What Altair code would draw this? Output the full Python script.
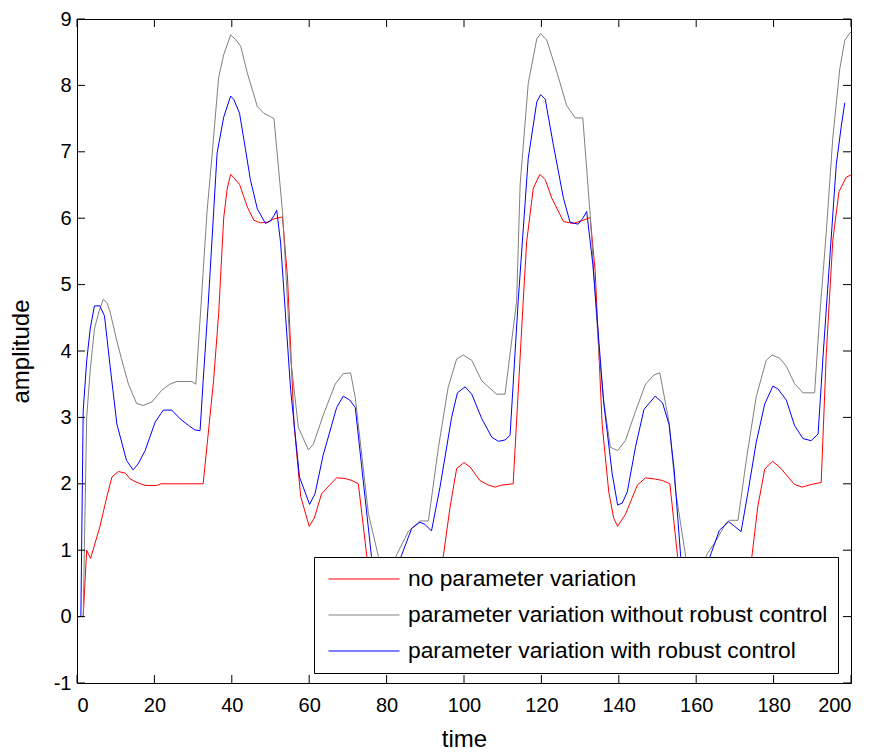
import altair as alt
import pandas as pd

# ---------------- data ----------------
series_names = [
    "no parameter variation",
    "parameter variation without robust control",
    "parameter variation with robust control",
]
series_colors = ["#ff0000", "#808080", "#0000ff"]

red_t = [0, 1.6, 2.5, 3.5, 5.9, 7.7, 9.0, 10.7, 12.5, 13.7, 15.5, 17.6, 20.6, 21.7, 32.6,
         35.3, 36.6, 37.9, 38.8, 39.7, 40.5, 42, 44, 45.7, 47.4, 49.2, 50.9, 53.1, 54.4,
         56.1, 57.8, 60, 61.3, 63.2, 65.6, 67.1, 69.3, 71, 72.7, 74.9, 77, 80, 85, 90,
         93.5, 94.7, 96.4, 98.1, 100, 101.6, 104.1, 106.3, 108, 109.7, 112.7, 115.3,
         116.2, 117.9, 119.6, 121, 122.7, 125.7, 128.2, 130.4, 132.6, 133.9, 135.7,
         137.4, 138.7, 139.7, 141.7, 144.8, 146.9, 149.5, 151.3, 153.2, 155.2, 157, 160,
         165, 170, 173.5, 174.5, 175.9, 177.7, 179.7, 181.6, 183.5, 185.4, 187.4, 189.7,
         192.3, 193.6, 195.3, 196.9, 198.8, 200]
red_v = [0, 0, 1.0, 0.875, 1.35, 1.8, 2.1, 2.185, 2.16, 2.075, 2.02, 1.975, 1.975, 2.0, 2.0,
         3.56, 4.56, 6.0, 6.44, 6.66, 6.61, 6.51, 6.17, 5.97, 5.93, 5.94, 5.99, 6.02, 5.1,
         2.89, 1.81, 1.36, 1.48, 1.85, 2.0, 2.09, 2.08, 2.05, 2.0, 0.9, -0.1, -0.4, -0.3, 0.0,
         0.5, 0.93, 1.65, 2.23, 2.32, 2.25, 2.05, 1.98, 1.95, 1.98, 2.0, 4.75,
         5.65, 6.45, 6.66, 6.58, 6.3, 5.95, 5.92, 5.96, 6.01, 5.2, 2.89,
         1.88, 1.48, 1.36, 1.54, 1.98, 2.09, 2.07, 2.05, 2.0, 0.9, -0.1, -0.4,
         -0.3, 0.0, 0.5, 0.96, 1.65, 2.22, 2.34, 2.25, 2.12, 1.99, 1.95, 1.99,
         2.02, 3.94, 5.67, 6.4, 6.62, 6.65]

gray_t = [0, 1.6, 2.5, 3.4, 4.5, 5.7, 6.8, 7.7, 8.5, 10.3, 11.5, 13.3, 15.4, 17.1, 19.3, 21.9,
          24, 25.8, 29.7, 30.7, 31.9, 33.6, 34.9, 36.6, 37.9, 39.7, 41, 42.3, 44, 46.6, 48.3,
          50, 50.9, 53.1, 55.2, 57.2, 59.8, 61.1, 63.6, 66.7, 68.8, 70.7, 71.9, 75.3, 77.9,
          80, 82.6, 85.6, 88.6, 90.8, 93.4, 95.9, 98.1, 99.8, 102, 104.6, 108.4, 110.6,
          113.6, 114.5, 116.6, 118.8, 119.8, 121.4, 124, 126.5, 128.7, 130.7, 132.6, 134.8,
          136, 137.8, 139.7, 141.7, 144.3, 146.9, 149.1, 150.6, 153, 154.7, 157.3, 160,
          162.9, 165.1, 167.7, 168.6, 170.8, 172.9, 175.5, 178.1, 179.6, 181.6, 183.3,
          185.4, 187.6, 190.6, 191.9, 193.6, 195.3, 197.1, 198.4, 199.7, 200]
gray_v = [0, 0, 3.0, 3.7, 4.33, 4.6, 4.78, 4.73, 4.6, 4.15, 3.88, 3.5, 3.21, 3.18, 3.23, 3.41,
          3.5, 3.54, 3.54, 3.5, 4.56, 6.1, 6.95, 8.12, 8.46, 8.76, 8.69, 8.59, 8.19, 7.68, 7.58,
          7.53, 7.5, 6.1, 3.89, 2.85, 2.51, 2.6, 3.03, 3.5, 3.66, 3.67, 3.3, 1.55, 0.9,
          0.6, 0.93, 1.28, 1.44, 1.44, 2.55, 3.45, 3.88, 3.94, 3.86, 3.55, 3.35, 3.35,
          4.75, 6.5, 8.03, 8.7, 8.78, 8.68, 8.2, 7.7, 7.51, 7.51, 6.05, 4.03,
          3.3, 2.55, 2.5, 2.65, 3.09, 3.5, 3.64, 3.67, 2.92, 1.88, 0.9, 0.6,
          0.95, 1.14, 1.41, 1.45, 1.45, 2.34, 3.31, 3.86, 3.94, 3.89, 3.77,
          3.51, 3.37, 3.37, 4.52, 5.78, 7.21, 8.25, 8.68, 8.79, 8.8]

blue_t = [0, 1.0, 1.6, 2.5, 3.4, 4.5, 5.9, 7.1, 8.5, 10.3, 12.8, 14.5, 15.8, 17.6, 20.2, 22.3,
          24.5, 26.6, 28.8, 30.5, 31.8, 32.6, 33.9, 36.2, 37.9, 39.7, 40.5, 42, 43.5, 44.8,
          46.6, 48.7, 50, 50.9, 51.6, 52.6, 55.2, 57.5, 60.1, 61.5, 63.6, 67.1, 68.8, 70.5,
          71.9, 76.1, 80, 83.9, 86.5, 88.6, 89.9, 91.6, 93.8, 96.8, 98.3, 100.3, 102, 104.6,
          107.2, 108.9, 110.6, 111.9, 114, 116.6, 118.8, 119.8, 121, 123.1, 125.7, 127.4,
          129.5, 130.7, 131.7, 133.3, 136.1, 138.3, 139.7, 140.9, 142.2, 144.3, 146.5,
          149.4, 151.3, 153, 154.3, 156, 160, 163.9, 166, 168.4, 169.9, 171.6, 173.4,
          175.5, 177.7, 179.8, 181.1, 183.3, 185.4, 187.6, 189.7, 191.5, 192.8, 194.5,
          196.2, 197.5, 198.4]
blue_v = [0, 0, 3.1, 3.85, 4.33, 4.68, 4.68, 4.53, 3.8, 2.9, 2.35, 2.21, 2.3, 2.5, 2.93, 3.11,
          3.11, 2.98, 2.88, 2.81, 2.8, 3.55, 4.7, 6.98, 7.52, 7.84, 7.79, 7.58, 7.05, 6.58,
          6.14, 5.92, 5.96, 6.04, 6.12, 5.64, 3.42, 2.1, 1.69, 1.85, 2.43, 3.15, 3.32, 3.26,
          3.15, 0.9, 0.3, 0.93, 1.33, 1.42, 1.39, 1.29, 1.95, 3.0, 3.37, 3.46, 3.35, 2.98,
          2.7, 2.64, 2.66, 2.73, 4.75, 6.9, 7.75, 7.86, 7.79, 7.1, 6.3, 5.94,
          5.91, 6.0, 6.1, 5.3, 3.22, 2.15, 1.68, 1.71, 1.88, 2.55, 3.12,
          3.32, 3.22, 2.89, 2.21, 0.9, 0.3, 0.96, 1.3, 1.43, 1.36, 1.28, 1.88,
          2.62, 3.2, 3.47, 3.43, 3.26, 2.88, 2.68, 2.65, 2.75, 3.94, 5.38,
          6.81, 7.39, 7.74]

x_ticks = list(range(0, 201, 20))
y_ticks = list(range(-1, 10))

# ---------------- build tables ----------------
rows = []
for name, ts, vs in zip(series_names, [red_t, gray_t, blue_t], [red_v, gray_v, blue_v]):
    for i, (t, v) in enumerate(zip(ts, vs)):
        rows.append({"time": t, "amplitude": v, "series": name, "idx": i})
df = pd.DataFrame(rows)
xt = pd.DataFrame({"t": x_ticks})
yt = pd.DataFrame({"v": y_ticks})

W, H = 774, 664
FONT = "Liberation Sans"
TL = 8  # inward tick length

xscale = alt.Scale(domain=[0, 200], nice=False, zero=False)
yscale = alt.Scale(domain=[-1, 9], nice=False, zero=False)

lines = alt.Chart(df).mark_line(strokeWidth=1).encode(
    x=alt.X("time:Q", scale=xscale,
            axis=alt.Axis(values=x_ticks, ticks=False, domain=False, grid=False,
                          labelExpr="'' + datum.value",
                          labelFontSize=20, labelFont=FONT, labelPadding=12,
                          title="time", titleFontSize=24, titleFont=FONT,
                          titleFontWeight="normal", titlePadding=12, labelColor="black",
                          titleColor="black")),
    y=alt.Y("amplitude:Q", scale=yscale,
            axis=alt.Axis(values=y_ticks, ticks=False, domain=False, grid=False,
                          labelExpr="'' + datum.value",
                          labelFontSize=20, labelFont=FONT, labelPadding=6,
                          title="amplitude", titleFontSize=24, titleFont=FONT,
                          titleFontWeight="normal", titlePadding=20, labelColor="black",
                          titleColor="black")),
    color=alt.Color("series:N",
                    scale=alt.Scale(domain=series_names, range=series_colors),
                    legend=alt.Legend(orient="none", legendX=237, legendY=538,
                                      title=None, fillColor="white", strokeColor="black",
                                      padding=10, symbolType="stroke", symbolSize=5041,
                                      symbolStrokeWidth=1, symbolOffset=4,
                                      labelFontSize=22.8, labelFont=FONT, labelOffset=8,
                                      labelLimit=0, rowPadding=12, clipHeight=24,
                                      labelColor="black")),
    order=alt.Order("idx:Q"),
)

tick_bottom = alt.Chart(xt).mark_rule(color="black", strokeWidth=1).encode(
    x=alt.X("t:Q", scale=xscale), y=alt.value(H), y2=alt.value(H - TL))
tick_top = alt.Chart(xt).mark_rule(color="black", strokeWidth=1).encode(
    x=alt.X("t:Q", scale=xscale), y=alt.value(0), y2=alt.value(TL))
tick_left = alt.Chart(yt).mark_rule(color="black", strokeWidth=1).encode(
    y=alt.Y("v:Q", scale=yscale), x=alt.value(0), x2=alt.value(TL))
tick_right = alt.Chart(yt).mark_rule(color="black", strokeWidth=1).encode(
    y=alt.Y("v:Q", scale=yscale), x=alt.value(W), x2=alt.value(W - TL))

chart = alt.layer(lines, tick_bottom, tick_top, tick_left, tick_right).properties(
    width=W, height=H,
    padding={"left": 69, "top": 11, "right": 12, "bottom": 72},
    autosize=alt.AutoSizeParams(type="none"),
    background="white",
).configure_view(stroke="black", strokeWidth=1)

chart.save("out.html", embed_options={"renderer": "svg", "actions": False})
